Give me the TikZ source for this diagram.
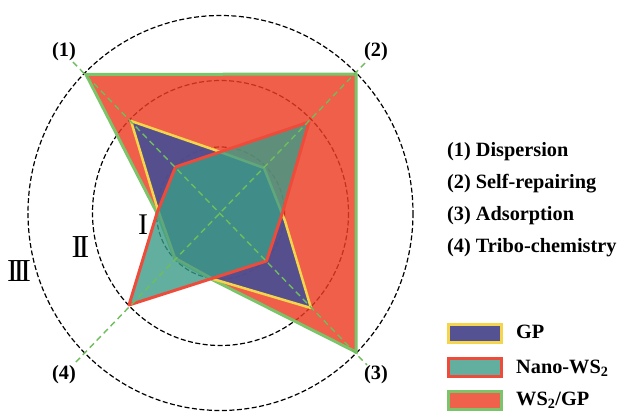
\documentclass[tikz,border=0pt]{standalone}
\usepackage{fontspec}
\setmainfont{Liberation Serif}
\definecolor{wsred}{RGB}{236,60,34}
\definecolor{wslegend}{RGB}{240,97,75}
\definecolor{gpnavy}{RGB}{70,78,150}
\definecolor{gplegend}{RGB}{84,82,147}
\definecolor{nanoteal}{RGB}{59,156,136}
\definecolor{stgreen}{RGB}{124,196,106}
\definecolor{styellow}{RGB}{245,213,75}
\definecolor{stred}{RGB}{238,75,59}
\definecolor{axgreen}{RGB}{110,190,92}
\tikzset{
  ring/.style={draw=black, dash pattern=on 5pt off 2.5pt, line width=1.2pt},
  axisline/.style={draw=axgreen, dash pattern=on 6pt off 4pt, line width=1.4pt},
  lbl/.style={font=\bfseries\fontsize{20.3}{23}\selectfont, inner sep=0pt},
  roman/.style={font=\fontsize{32}{36}\selectfont, inner sep=0pt},
  wspoly/.style={fill=wsred, fill opacity=0.82, draw=stgreen, draw opacity=1, line width=3pt, line join=miter},
  gppoly/.style={fill=gpnavy, fill opacity=0.9, draw=styellow, draw opacity=1, line width=2.5pt, line join=round},
  nanopoly/.style={fill=nanoteal, fill opacity=0.8, draw=stred, draw opacity=1, line width=3pt, line join=round},
  legbox/.style={minimum width=53.5pt, minimum height=18pt, inner sep=0pt, line width=3pt},
}
\begin{document}
\begin{tikzpicture}[x=1pt,y=-1pt]
\useasboundingbox (0,0) rectangle (627,413);
\fill[white] (0,0) rectangle (627,413);
% rings
\coordinate (C) at (220.5,213);
\draw[ring] (C) ellipse [x radius=64, y radius=66];
\draw[ring] (C) ellipse [x radius=128, y radius=132.5];
\draw[ring] (C) ellipse [x radius=192.5, y radius=197.5];
% WS2/GP
\coordinate (W1) at (86,74.5);
\coordinate (W2) at (356,74);
\coordinate (W3) at (356,352);
\coordinate (Wb) at (213,280);
\coordinate (W4) at (175,259);
\coordinate (Wl) at (157,213);
\path[wspoly] (W1) -- (W2) -- (W3) -- (Wb) -- (W4) -- (Wl) -- cycle;
% GP
\coordinate (G1) at (131,121);
\coordinate (Gt) at (212,149);
\coordinate (G2) at (264,168);
\coordinate (Gr) at (285,221);
\coordinate (G3) at (311,308);
\coordinate (Gb) at (213,279);
\coordinate (G4) at (175,258);
\coordinate (Gl) at (157,207);
\path[gppoly] (G1) -- (Gt) -- (G2) -- (Gr) -- (G3) -- (Gb) -- (G4) -- (Gl) -- cycle;
% Nano-WS2
\coordinate (N1) at (175.5,167);
\coordinate (N2) at (309,122);
\coordinate (Nr) at (283,211);
\coordinate (N3) at (266.5,261);
\coordinate (N4) at (129,305);
\coordinate (Nl) at (157,213);
\path[nanopoly] (N1) -- (N2) -- (Nr) -- (N3) -- (N4) -- (Nl) -- cycle;
% axes
\coordinate (D1) at (73,62);
\coordinate (D3) at (367,365);
\coordinate (D2) at (365,63);
\coordinate (D4) at (75,363);
\draw[axisline] (D1) -- (D3);
\draw[axisline] (D2) -- (D4);
% axis labels
\node[lbl] (L1) at (64,52) {(1)};
\node[lbl] (L2) at (376,52) {(2)};
\node[lbl] (L3) at (376,375) {(3)};
\node[lbl] (L4) at (64,375) {(4)};
% roman numerals
\node[roman, font=\fontsize{30}{34}\selectfont] (R1) at (143,225) {I};
\node[roman] (R2) at (80.5,247) {I\kern-3.6pt I};
\node[roman] (R3) at (19,271) {I\kern-4pt I\kern-4pt I};
% list
\node[lbl, anchor=base west] (T1) at (447,156.5) {(1) Dispersion};
\node[lbl, anchor=base west] (T2) at (447,188.5) {(2) Self-repairing};
\node[lbl, anchor=base west] (T3) at (447,220.5) {(3) Adsorption};
\node[lbl, anchor=base west] (T4) at (447,252.5) {(4) Tribo-chemistry};
% legend
\node[legbox, draw=styellow, fill=gplegend] (B1) at (475,333.8) {};
\node[legbox, draw=stred, fill=nanoteal, fill opacity=0.8, draw opacity=1] (B2) at (475,367.5) {};
\node[legbox, draw=stgreen, fill=wslegend] (B3) at (475,400.2) {};
\node[lbl, anchor=base west] (E1) at (516,338.3) {GP};
\node[lbl, anchor=base west] (E2) at (516,373.3) {Nano-WS$_{\mathbf{2}}$};
\node[lbl, anchor=base west] (E3) at (516,405) {WS$_{\mathbf{2}}$/GP};
\end{tikzpicture}
\end{document}
